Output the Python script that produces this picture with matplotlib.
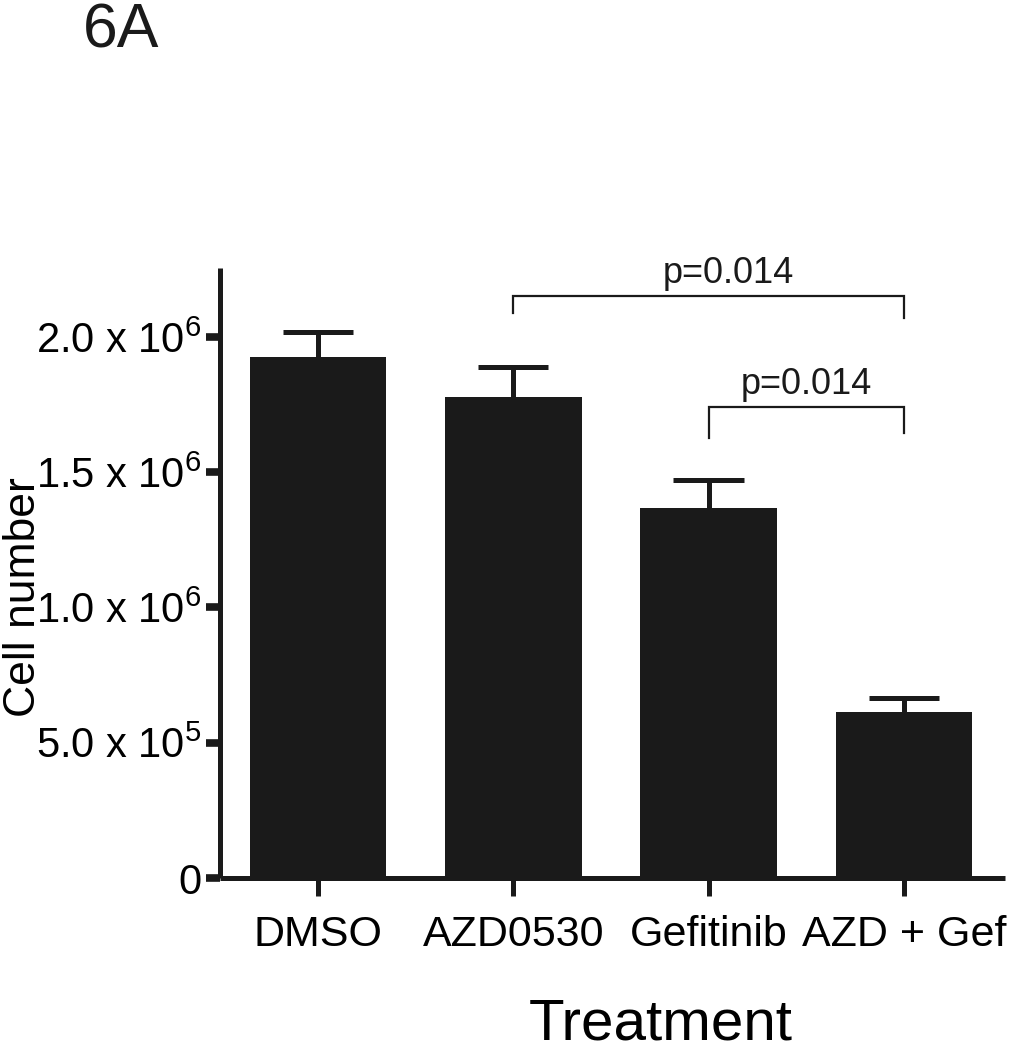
import numpy as np
import matplotlib
matplotlib.use('Agg')
import matplotlib.pyplot as plt

# Data (cell counts)
treatments = ['DMSO', 'AZD0530', 'Gefitinib', 'AZD + Gef']
means = [1.926e6, 1.778e6, 1.368e6, 0.612e6]
sems = [0.092e6, 0.111e6, 0.103e6, 0.052e6]

y_ticks = [0, 5e5, 1e6, 1.5e6, 2e6]
y_tick_labels = ['0', r'5.0 x 10$^{5}$', r'1.0 x 10$^{6}$', r'1.5 x 10$^{6}$', r'2.0 x 10$^{6}$']

# significance brackets: (bar i, bar j, bracket level, left leg end, right leg end, label)
brackets = [
    (1, 3, 2.152e6, 2.089e6, 2.070e6, 'p=0.014'),
    (2, 3, 1.741e6, 1.627e6, 1.645e6, 'p=0.014'),
]
label_shift = [0.1, 0.0]

plt.rcParams['font.family'] = ['Liberation Sans', 'DejaVu Sans']
plt.rcParams['mathtext.default'] = 'regular'

INK = '#1a1a1a'

fig = plt.figure(figsize=(10.09, 10.5), dpi=100)
ax = fig.add_axes([220 / 1009, 1 - 878 / 1050, 785 / 1009, 610 / 1050])

x = np.arange(len(treatments))
tops = np.array(means) + np.array(sems)
ax.bar(x, means, width=0.70, color=INK, edgecolor='none', zorder=2)
# upper-only error bars
ax.vlines(x, means, tops, color=INK, lw=3.6, zorder=1)
ax.hlines(tops, x - 0.18, x + 0.18, color=INK, lw=3.6, zorder=1)

ax.set_xlim(-0.502, 3.518)
ax.set_ylim(0, 2.255e6)

for sp in ['top', 'right']:
    ax.spines[sp].set_visible(False)
for sp in ['left', 'bottom']:
    ax.spines[sp].set_linewidth(3.6)
    ax.spines[sp].set_color(INK)
    ax.spines[sp].set_capstyle('butt')

ax.set_yticks(y_ticks)
ax.set_yticklabels(y_tick_labels, fontsize=30)
ax.set_xticks(x)
ax.set_xticklabels(treatments, fontsize=31)
ax.tick_params(axis='y', length=10, width=5.5, color=INK, pad=3)
ax.tick_params(axis='x', length=13, width=3.6, color=INK, pad=14, direction='out')

ax.set_ylabel('Cell number', fontsize=32, va='center')
ax.yaxis.set_label_coords(-0.25, 0.46)
ax.set_xlabel('Treatment', fontsize=42, va='baseline')
ax.xaxis.set_label_coords(0.562, -0.264)

for (i, j, level, leg_i, leg_j, label), dx in zip(brackets, label_shift):
    ax.plot([i, i, j, j], [leg_i, level, level, leg_j], color=INK, lw=1.6,
            solid_joinstyle='miter', clip_on=False)
    ax.text((i + j) / 2 + dx, level + 0.048e6, label, ha='center', va='baseline',
            fontsize=26, color=INK)

fig.text(83 / 1009, 1 - 47 / 1050, '6A', fontsize=45, va='baseline', ha='left', color=INK)

fig.savefig('out.png', dpi=100)
